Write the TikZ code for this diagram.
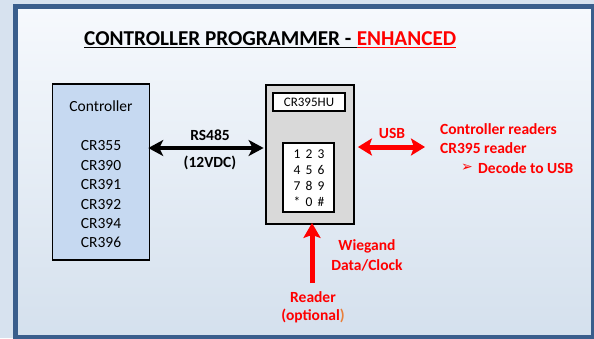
\documentclass[tikz,border=0pt]{standalone}
\usepackage{fontspec}
\setmainfont{Carlito}
\newfontfamily\dejavu{DejaVu Sans}
\usetikzlibrary{arrows.meta}
\definecolor{outerbg}{HTML}{D7E2EF}
\definecolor{framec}{HTML}{3A5E8C}
\definecolor{innertop}{HTML}{F6F9FD}
\definecolor{innerbot}{HTML}{D4E0ED}
\definecolor{ctrlfill}{HTML}{C6D9F1}
\definecolor{rdrfill}{HTML}{D9D9D9}
\definecolor{redc}{HTML}{FF0000}
\definecolor{orangec}{HTML}{E9803A}
\newcommand{\kp}[1]{\makebox[12pt]{#1}}
\begin{document}
\begin{tikzpicture}[x=1pt,y=-1pt,
  txt/.style={inner sep=0pt, font=\fontsize{15.5}{19}\selectfont},
  btxt/.style={inner sep=0pt, font=\bfseries\fontsize{15.5}{19}\selectfont},
  rtxt/.style={inner sep=0pt, text=redc, font=\bfseries\fontsize{15.5}{19}\selectfont},
  ctrlbox/.style={rectangle, draw=black, line width=1.5pt, fill=ctrlfill, inner sep=0pt},
  rdrbox/.style={rectangle, draw=black, line width=1.8pt, fill=rdrfill, inner sep=0pt},
  whitebox/.style={rectangle, draw=black, line width=1.8pt, fill=white, inner sep=0pt},
  blackarrow/.style={line width=3.5pt, {Stealth[length=15pt,width=16pt,inset=4pt]}-{Stealth[length=15pt,width=16pt,inset=4pt]}},
  redarrow/.style={draw=redc, line width=5pt, {Stealth[length=14pt,width=17pt,inset=3pt]}-{Stealth[length=14pt,width=17pt,inset=3pt]}},
  redup/.style={draw=redc, line width=5pt, -{Stealth[length=15pt,width=17pt,inset=3pt]}}
]
\useasboundingbox (0,0) rectangle (594,338);
\clip (0,0) rectangle (594,338);
\fill[outerbg] (0,0) rectangle (594,338);
\shade[top color=innertop, bottom color=innerbot] (15.8,6.8) rectangle (596,340);
\draw[framec, line width=5pt] (15.8,6.8) rectangle (593.5,337.5);

% title
\node[inner sep=0pt, anchor=base west, font=\bfseries\fontsize{21.2}{25}\selectfont] (t1) at (84,45) {CONTROLLER PROGRAMMER -\kern5pt};
\node[inner sep=0pt, anchor=base west, text=redc, font=\bfseries\fontsize{21.2}{25}\selectfont] (t2) at (t1.base east) {ENHANCED};
\draw[line width=1.8pt] ([yshift=-2.4pt]t1.base west) -- ([yshift=-2.4pt]t1.base east);
\draw[redc, line width=1.8pt] ([yshift=-2.4pt]t2.base west) -- ([yshift=-2.4pt]t2.base east);

% controller
\node[ctrlbox, minimum width=97pt, minimum height=176pt] (ctrl) at (101,172) {};
\node[txt] (ctrllbl) at (101,106) {Controller};
\node[txt, align=center, font=\fontsize{15.5}{19.4}\selectfont] (ctrllist) at (101,194.5) {CR355\\CR390\\CR391\\CR392\\CR394\\CR396};

% reader
\node[rdrbox, minimum width=88pt, minimum height=139pt] (rdr) at (310,154.5) {};
\node[whitebox, minimum width=72pt, minimum height=18pt, font=\fontsize{13}{15}\selectfont] (lbl) at (309,102) {CR395HU};
\node[whitebox, minimum width=51pt, minimum height=69pt] (kp) at (308.5,177.5) {};
\node[inner sep=0pt, align=center, font=\fontsize{13.5}{15.8}\selectfont] (keys) at (309,178) {\kp{1}\kp{2}\kp{3}\\\kp{4}\kp{5}\kp{6}\\\kp{7}\kp{8}\kp{9}\\\kp{*}\kp{0}\kp{\#}};

% RS485
\coordinate (rsY) at (210,148);
\draw[blackarrow, shorten <=-2pt, shorten >=1.5pt] (ctrl.east |- rsY) -- (rdr.west |- rsY);
\node[btxt] (rs) at (210,135) {RS485};
\node[btxt] (vdc) at (210,163) {(12VDC)};

% USB
\coordinate (usbR) at (425,147);
\draw[redarrow, shorten <=3pt] (rdr.east |- usbR) -- (usbR);
\node[rtxt] (usb) at (392,133) {USB};
\node[rtxt, anchor=west] (cr1) at (440,129) {Controller readers};
\node[rtxt, anchor=west] (cr2) at (440,148) {CR395 reader};
\node[inner sep=0pt, anchor=west, text=redc, font=\dejavu\fontsize{14}{16}\selectfont] (bul) at (461,168) {➢};
\node[rtxt, anchor=west] (dec) at (478,168) {Decode to USB};

% Wiegand
\coordinate (wgB) at (312,283);
\draw[redup, shorten >=-2pt] (wgB) -- (wgB |- rdr.south);
\node[rtxt] (wg1) at (367,246) {Wiegand};
\node[rtxt] (wg2) at (367,265) {Data/Clock};
\node[rtxt] (rd1) at (313,297) {Reader};
\node[rtxt] (rd2) at (313,316) {(optional\textcolor{orangec}{)}};
\end{tikzpicture}
\end{document}
